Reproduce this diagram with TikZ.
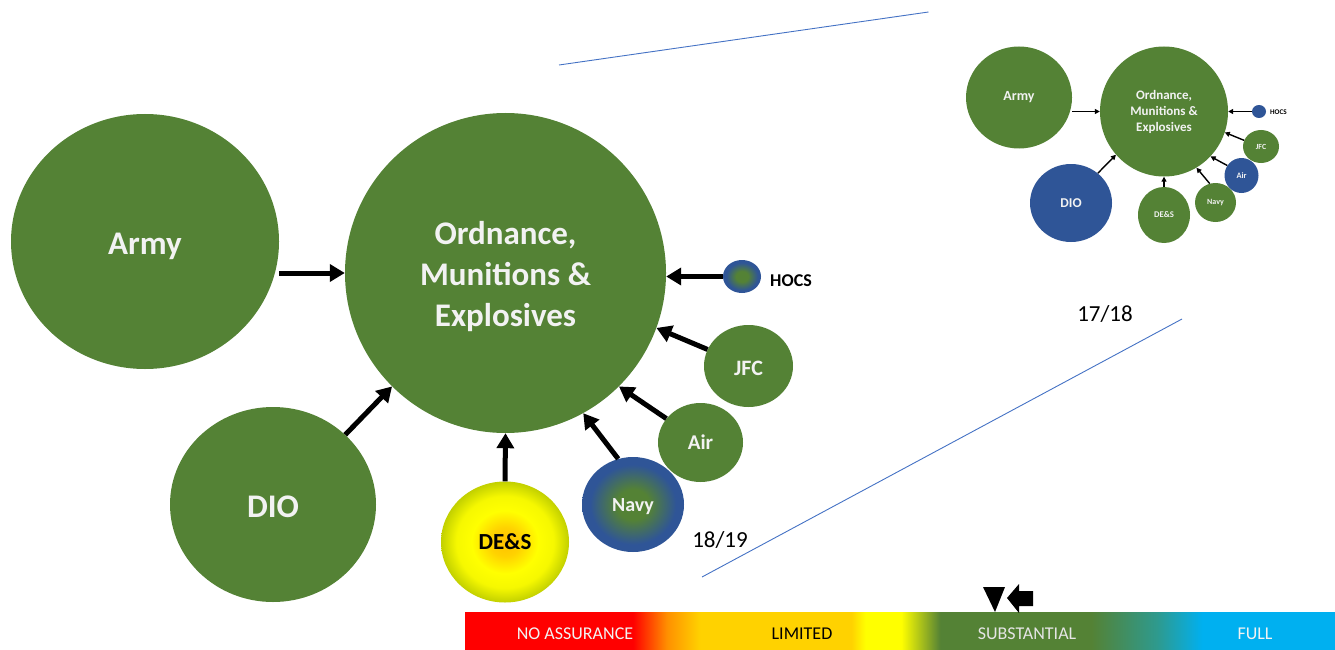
\documentclass[tikz,border=0pt]{standalone}
\usepackage{fontspec}
\setmainfont{Carlito}
\usetikzlibrary{shapes.geometric,arrows.meta}

\definecolor{ogreen}{HTML}{548235}
\definecolor{oblue}{HTML}{2F5597}
\definecolor{txt}{HTML}{F2F2F2}
\definecolor{lineblue}{HTML}{4472C4}
\definecolor{barblue}{HTML}{00B0F0}
\definecolor{barorange}{HTML}{FF9000}
\definecolor{bargold}{HTML}{FFD200}
\definecolor{barteal}{HTML}{2E9A8E}
\definecolor{desorange}{HTML}{FFC000}
\definecolor{desyellow}{HTML}{FFFF00}
\definecolor{desedge}{HTML}{C2D000}

\pgfdeclareradialshading{navyshade}{\pgfpoint{0bp}{0bp}}{color(0bp)=(ogreen); color(8bp)=(ogreen); color(21bp)=(oblue); color(25bp)=(oblue); color(50bp)=(oblue)}
\pgfdeclareradialshading{desshade}{\pgfpoint{0bp}{0bp}}{color(0bp)=(desorange); color(6bp)=(bargold); color(13bp)=(desyellow); color(19bp)=(desyellow!85!desedge); color(25bp)=(desedge); color(50bp)=(desedge)}
\pgfdeclarehorizontalshading{assurance}{100bp}{color(0bp)=(red); color(34.65bp)=(red); color(36.6bp)=(barorange); color(38.5bp)=(bargold); color(47.2bp)=(bargold); color(48bp)=(desyellow); color(50.06bp)=(desyellow); color(52.3bp)=(ogreen); color(60.98bp)=(ogreen); color(64.77bp)=(barteal); color(67.36bp)=(barblue); color(100bp)=(barblue)}

\tikzset{
  bub/.style={ellipse, inner sep=0pt, fill=ogreen, text=txt, align=center},
  shadedbub/.style={ellipse, inner sep=0pt, shade, shading=#1, align=center},
  lbl/.style={text=txt, align=center, inner sep=0pt},
  bigarr/.style={line width=5pt, -{Triangle[length=15pt,width=17pt]}},
  smallarr/.style={line width=1.4pt, -{Triangle[length=5pt,width=5pt]}},
  connline/.style={lineblue, line width=0.9pt},
  barlabel/.style={font=\fontsize{18}{20}\selectfont},
  yeartxt/.style={font=\fontsize{23}{26}\selectfont, text=black},
}
\newcommand{\fsz}[2]{\fontsize{#1}{#2}\selectfont}

\begin{document}
\begin{tikzpicture}[x=1pt,y=-1pt]
\useasboundingbox (0,0) rectangle (1335,650);

% ---------------- main diagram ----------------
\node[bub, minimum width=268pt, minimum height=255pt,
  label={[lbl, font=\bfseries\fsz{33}{40}, yshift=-5pt]center:Army}] (army) at (145,241.5) {};
\node[bub, minimum width=321pt, minimum height=320pt,
  label={[lbl, font=\bfseries\fsz{33}{41}, yshift=-4pt]center:{Ordnance,\\Munitions \&\\Explosives}}] (ome) at (505.5,273) {};
\node[bub, minimum width=206pt, minimum height=195pt,
  label={[lbl, font=\bfseries\fsz{33}{40}, yshift=-2pt]center:DIO}] (dio) at (273,504.5) {};
\node[shadedbub=desshade, minimum width=128pt, minimum height=121pt,
  label={[lbl, font=\bfseries\fsz{23}{26}, text=black]center:{DE\&S}}] (des) at (505,542) {};
\node[shadedbub=navyshade, minimum width=102pt, minimum height=95pt,
  label={[lbl, font=\bfseries\fsz{20}{24}, yshift=-2pt]center:Navy}] (navy) at (633,504.5) {};
\node[bub, minimum width=85pt, minimum height=79pt,
  label={[lbl, font=\bfseries\fsz{21}{24}]center:Air}] (air) at (700.5,442.5) {};
\node[bub, minimum width=89pt, minimum height=82pt,
  label={[lbl, font=\bfseries\fsz{22}{24}, yshift=-2pt]center:JFC}] (jfc) at (748.5,366) {};
\node[shadedbub=navyshade, minimum width=38pt, minimum height=33pt] (hocs) at (742,276.5) {};
\node[font=\bfseries\fsz{18}{20}, text=black] (hocslbl) at (791,280.5) {HOCS};

\draw[bigarr] (army.east |- ome.west) -- (ome.west);
\draw[bigarr] (dio.44) -- (ome.225);
\draw[bigarr] (des.north) -- (ome.south);
\draw[bigarr] (navy.108) -- (ome.-61);
\draw[bigarr] (air.145) -- (ome.-45);
\draw[bigarr] (jfc.158) -- (ome.-20.5);
\draw[bigarr] (hocs.west) -- (ome.east |- hocs.west);

\node[yeartxt] (y1819) at (720,540) {18/19};

% ---------------- inset (17/18) ----------------
\node[bub, minimum width=106pt, minimum height=102pt, font=\bfseries\fsz{14}{16}] (iarmy) at (1019,97.5) {Army};
\node[bub, minimum width=128pt, minimum height=130pt, font=\bfseries\fsz{13}{16}] (iome) at (1164,111.5) {Ordnance,\\Munitions \&\\Explosives};
\node[bub, fill=oblue, minimum width=82pt, minimum height=78pt, font=\bfseries\fsz{13.5}{16}] (idio) at (1071,203) {DIO};
\node[bub, minimum width=52pt, minimum height=56pt, font=\bfseries\fsz{8.7}{10}] (ides) at (1164,215) {DE\&S};
\node[bub, minimum width=41pt, minimum height=39pt, font=\bfseries\fsz{8}{10}] (inavy) at (1215.5,202.5) {Navy};
\node[bub, fill=oblue, minimum width=34pt, minimum height=35pt, font=\bfseries\fsz{8.3}{10}] (iair) at (1241.5,175.5) {Air};
\node[bub, minimum width=36pt, minimum height=33pt, font=\bfseries\fsz{7.8}{10}] (ijfc) at (1261,146.5) {JFC};
\node[bub, fill=oblue, minimum width=14pt, minimum height=13pt] (ihocs) at (1259,111.5) {};
\node[font=\bfseries\fsz{7.2}{9}, text=black] (ihocslbl) at (1278.5,112.5) {HOCS};

\draw[smallarr] (iarmy.east |- iome.west) -- (iome.west);
\draw[smallarr] (idio.48) -- (iome.222);
\draw[smallarr] (ides.north) -- (iome.south);
\draw[smallarr] (inavy.107) -- (iome.-60);
\draw[smallarr] (iair.145) -- (iome.-44);
\draw[smallarr] (ijfc.160) -- (iome.-19);
\draw[smallarr] (ihocs.west) -- (iome.east |- ihocs.west);

\node[yeartxt] (y1718) at (1105,314) {17/18};

% ---------------- zoom lines ----------------
\coordinate (la) at (559,65);
\coordinate (lb) at (928.5,12);
\coordinate (lc) at (702,577);
\coordinate (ld) at (1182,319);
\draw[connline] (la) -- (lb);
\draw[connline] (lc) -- (ld);

% ---------------- assurance bar ----------------
\node[shade, shading=assurance, minimum width=870pt, minimum height=38pt, inner sep=0pt, anchor=north west] (bar) at (465,612) {};
\node[barlabel, text=txt] (noass) at (575,633.5) {NO ASSURANCE};
\node[barlabel, text=black] (lim) at (802,633.5) {LIMITED};
\node[barlabel, text=black!10] (subst) at (1027,633.5) {SUBSTANTIAL};
\node[barlabel, text=txt] (full) at (1255,633.5) {FULL};

% markers
\fill[black] (983,587) -- (1005,587) -- (995,612) -- cycle;
\fill[black] (1007,598) -- (1019,584) -- (1019,591) -- (1033,591) -- (1033,606) -- (1019,606) -- (1019,613) -- cycle;
\end{tikzpicture}
\end{document}
